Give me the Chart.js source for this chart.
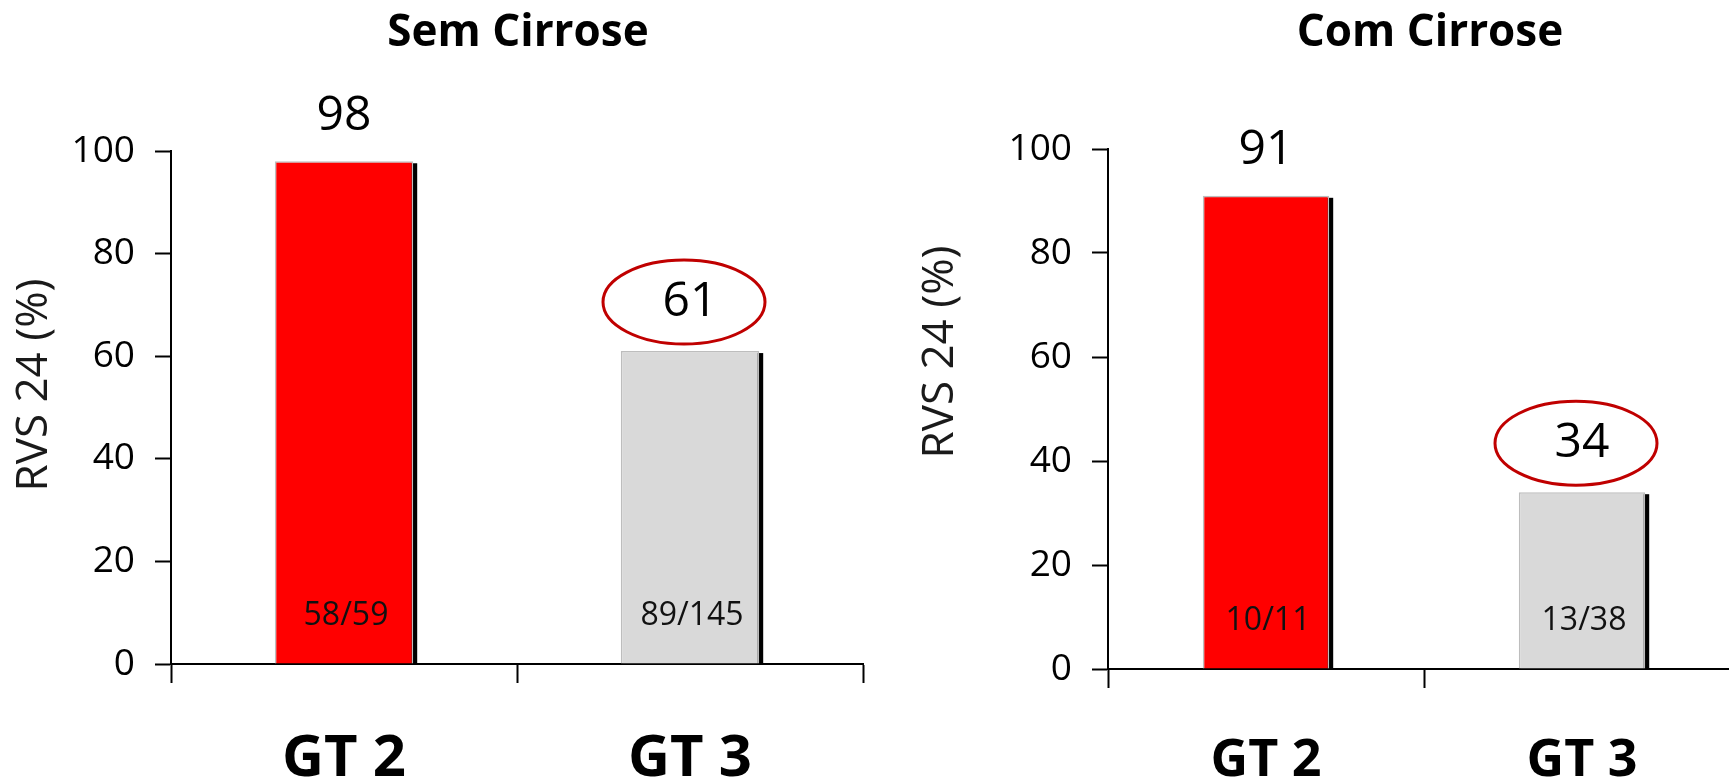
<!DOCTYPE html>
<html>
<head>
<meta charset="utf-8">
<title>RVS 24 por genótipo</title>
<script src="https://cdn.jsdelivr.net/npm/chart.js@4.4.1/dist/chart.umd.min.js"></script>
<style>
  html, body { margin: 0; padding: 0; background: #ffffff; overflow: hidden; width: 1729px; height: 780px; }
  .panel { position: absolute; top: 0; width: 880px; height: 780px; }
  #panelSem { left: 0; }
  #panelCom { left: 880px; }
</style>
</head>
<body>
<div class="panel" id="panelSem"><canvas id="chartSem" width="880" height="780"></canvas></div>
<div class="panel" id="panelCom"><canvas id="chartCom" width="880" height="780"></canvas></div>
<script>
// Genotype categories shared by both panels
const categories = ['GT 2', 'GT 3'];

// RVS 24 (%) per genotype
const semCirroseValues = [98, 61];
const comCirroseValues = [91, 34];

// Responders / patients shown inside each bar
const semCirroseCounts = ['58/59', '89/145'];
const comCirroseCounts = ['10/11', '13/38'];

// Bar fill per genotype and which value gets the red ring
const barColors = ['#FF0000', '#D9D9D9'];
const highlighted = [false, true];

// Y axis range
const yMin = 0;
const yMax = 100;
const yStep = 20;

const FONT = "'Open Sans', 'DejaVu Sans', sans-serif";

// Black drop strip on the right side of each bar
const barShadow = {
  id: 'barShadow',
  beforeDatasetsDraw(chart) {
    const ctx = chart.ctx;
    const meta = chart.getDatasetMeta(0);
    ctx.save();
    ctx.fillStyle = '#000000';
    meta.data.forEach(bar => {
      const p = bar.getProps(['x', 'y', 'base', 'width'], true);
      ctx.fillRect(p.x - p.width / 2 + 4, p.y + 2, p.width, p.base - p.y - 2);
    });
    ctx.restore();
  }
};

// Value above each bar, counts inside, optional ring, panel title and y-axis title
const annotations = {
  id: 'annotations',
  afterDatasetsDraw(chart, args, opts) {
    const ctx = chart.ctx;
    const meta = chart.getDatasetMeta(0);
    const values = chart.data.datasets[0].data;
    const yScale = chart.scales.y;
    const zeroY = yScale.getPixelForValue(0);
    ctx.save();
    meta.data.forEach((bar, i) => {
      const p = bar.getProps(['x', 'y'], true);
      const label = String(values[i]);
      ctx.textAlign = 'center';
      ctx.textBaseline = 'middle';
      ctx.fillStyle = '#000000';
      ctx.font = '48px ' + FONT;
      if (opts.highlighted[i]) {
        const cy = p.y - 49;
        ctx.beginPath();
        ctx.ellipse(p.x - 6, cy, 81, 42, 0, 0, Math.PI * 2);
        ctx.lineWidth = 3;
        ctx.strokeStyle = '#C00000';
        ctx.stroke();
        ctx.fillText(label, p.x, cy);
      } else {
        ctx.fillText(label, p.x, p.y - 45);
      }
      ctx.font = '32px ' + FONT;
      ctx.fillStyle = '#111111';
      ctx.fillText(opts.counts[i], p.x + 2, zeroY - 48);
    });

    // Panel title, centred over the plot
    ctx.font = 'bold 44px ' + FONT;
    ctx.fillStyle = '#000000';
    ctx.textAlign = 'center';
    ctx.textBaseline = 'middle';
    ctx.fillText(opts.title, opts.titleX, 33);

    // Rotated y-axis title
    ctx.translate(opts.axisTitleX, opts.axisTitleY);
    ctx.rotate(-Math.PI / 2);
    ctx.font = '44px ' + FONT;
    ctx.fillStyle = '#1a1a1a';
    ctx.fillText('RVS 24 (%)', 0, 0);
    ctx.restore();
  }
};

function makeChart(canvasId, values, counts, cfg) {
  return new Chart(document.getElementById(canvasId), {
    type: 'bar',
    data: {
      labels: categories,
      datasets: [{
        data: values,
        backgroundColor: barColors,
        borderColor: '#BDBDBD',
        borderWidth: 1.5,
        barPercentage: 0.4,
        categoryPercentage: 1.0
      }]
    },
    options: {
      responsive: false,
      animation: false,
      devicePixelRatio: 1,
      layout: { padding: { left: 0, right: cfg.padRight, top: cfg.padTop, bottom: 0 } },
      plugins: {
        legend: { display: false },
        tooltip: { enabled: false },
        title: { display: false },
        annotations: {
          counts: counts,
          highlighted: highlighted,
          title: cfg.title,
          titleX: cfg.titleX,
          axisTitleX: cfg.axisTitleX,
          axisTitleY: cfg.axisTitleY
        }
      },
      scales: {
        x: {
          offset: true,
          afterFit(scale) { scale.height = cfg.xHeight; },
          grid: {
            offset: true,
            drawOnChartArea: false,
            drawTicks: true,
            tickLength: 19,
            tickWidth: 2,
            tickColor: '#000000'
          },
          border: { display: true, color: '#000000', width: 2 },
          ticks: {
            color: '#000000',
            padding: cfg.xLabelPad,
            font: { family: FONT, size: cfg.xLabelSize, weight: 'bold' }
          }
        },
        y: {
          min: yMin,
          max: yMax,
          afterFit(scale) { scale.width = cfg.yWidth; },
          grid: {
            drawOnChartArea: false,
            drawTicks: true,
            tickLength: 16,
            tickWidth: 2,
            tickColor: '#000000'
          },
          border: { display: true, color: '#000000', width: 2 },
          ticks: {
            stepSize: yStep,
            color: '#000000',
            padding: 20,
            font: { family: FONT, size: 37 }
          }
        }
      }
    },
    plugins: [barShadow, annotations]
  });
}

makeChart('chartSem', semCirroseValues, semCirroseCounts, {
  title: 'Sem Cirrose',
  titleX: 518,
  padTop: 151,
  padRight: 17,
  yWidth: 171,
  xHeight: 116,
  xLabelPad: 42,
  xLabelSize: 58,
  axisTitleX: 34,
  axisTitleY: 385
});

makeChart('chartCom', comCirroseValues, comCirroseCounts, {
  title: 'Com Cirrose',
  titleX: 550,
  padTop: 149,
  padRight: 20,
  yWidth: 228,
  xHeight: 111,
  xLabelPad: 42,
  xLabelSize: 52,
  axisTitleX: 60,
  axisTitleY: 352
});
</script>
</body>
</html>
